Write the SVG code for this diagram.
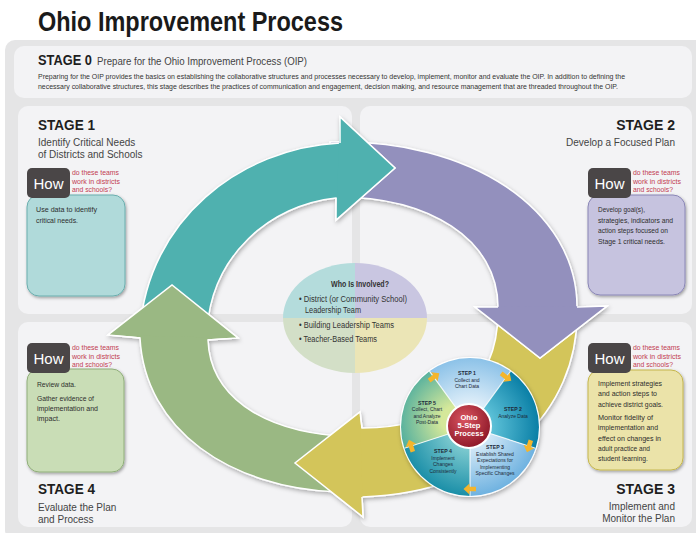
<svg xmlns="http://www.w3.org/2000/svg" width="696" height="533" viewBox="0 0 696 533">
<defs>
<style>
.t{font-family:"Liberation Sans",Arial,sans-serif}
.ttl{font-size:27px;font-weight:bold;fill:#1a1a1a}
.stg{font-size:14px;font-weight:bold;fill:#1e1e1e}
.sub{font-size:10px;fill:#444}
.par{font-size:7px;fill:#333}
.body{font-size:8px;fill:#2e2e2e}
.red{font-size:7px;fill:#c23b52}
.how{font-size:15px;fill:#fff}
.who{font-size:8.5px;fill:#333}
.stp{font-size:5.2px;font-weight:bold;fill:#1d2a3a;text-anchor:middle}
.sd{font-size:5px;fill:#1d2a3a;text-anchor:middle}
.ctr{font-size:7.5px;font-weight:bold;fill:#fff;text-anchor:middle}
.panel{fill:#f3f3f5}
.howbox{fill:#4a4647}
.arrow{stroke:#fff;stroke-width:1.5;stroke-linejoin:miter}
.edge{fill:none;stroke:#fff;stroke-width:1.5}
</style>
<filter id="sh" x="-10%" y="-10%" width="130%" height="130%">
<feDropShadow dx="1" dy="2" stdDeviation="2" flood-color="#000" flood-opacity="0.3"/>
</filter>
<filter id="sh2" x="-10%" y="-10%" width="130%" height="130%">
<feDropShadow dx="1" dy="1.5" stdDeviation="1.5" flood-color="#000" flood-opacity="0.35"/>
</filter>
<radialGradient id="g1" gradientUnits="userSpaceOnUse" cx="470" cy="427" r="69"><stop offset="0.3" stop-color="#e4f1fa"/><stop offset="1" stop-color="#8cc2e8"/></radialGradient>
<radialGradient id="g2" gradientUnits="userSpaceOnUse" cx="470" cy="427" r="69"><stop offset="0.3" stop-color="#5fc3d9"/><stop offset="1" stop-color="#0a7fa6"/></radialGradient>
<radialGradient id="g3" gradientUnits="userSpaceOnUse" cx="470" cy="427" r="69"><stop offset="0.3" stop-color="#d2e8f7"/><stop offset="1" stop-color="#6fb2e0"/></radialGradient>
<radialGradient id="g4" gradientUnits="userSpaceOnUse" cx="470" cy="427" r="69"><stop offset="0.3" stop-color="#7fcbd0"/><stop offset="1" stop-color="#1b8fa8"/></radialGradient>
<radialGradient id="g5" gradientUnits="userSpaceOnUse" cx="455" cy="420" r="69"><stop offset="0.2" stop-color="#d5e89a"/><stop offset="1" stop-color="#2f9f9f"/></radialGradient>
<radialGradient id="gr" cx="0.4" cy="0.35" r="0.7"><stop offset="0" stop-color="#d9545f"/><stop offset="1" stop-color="#8a1526"/></radialGradient>
<path id="sa" d="M -6 -2.3 L 0.5 -2.3 L 0.5 -5.5 L 6.5 0 L 0.5 5.5 L 0.5 2.3 L -6 2.3 Z" fill="#f4b52c"/>
</defs>

<rect width="696" height="533" fill="#ffffff"/>
<text class="t ttl" x="38" y="31" textLength="305" lengthAdjust="spacingAndGlyphs">Ohio Improvement Process</text>
<rect x="5" y="40" width="700" height="500" rx="10" fill="#e5e5e6"/>

<g id="stage0">
<rect x="14" y="46" width="678" height="52" rx="10" class="panel"/>
<text class="t stg" x="38" y="65" textLength="54" lengthAdjust="spacingAndGlyphs">STAGE 0</text>
<text class="t sub" x="97" y="65" textLength="210" lengthAdjust="spacingAndGlyphs">Prepare for the Ohio Improvement Process (OIP)</text>
<text class="t par" x="38" y="79" textLength="587" lengthAdjust="spacingAndGlyphs">Preparing for the OIP provides the basics on establishing the collaborative structures and processes necessary to develop, implement, monitor and evaluate the OIP.  In addition to defining the</text>
<text class="t par" x="38" y="89" textLength="580" lengthAdjust="spacingAndGlyphs">necessary collaborative structures, this stage describes the practices of communication and engagement, decision making, and resource management that are threaded throughout the OIP.</text>
</g>

<g id="panels">
<rect x="18" y="106" width="334" height="208" rx="10" class="panel"/>
<rect x="360" y="106" width="332" height="208" rx="10" class="panel"/>
<rect x="18" y="322" width="334" height="205" rx="10" class="panel"/>
<rect x="360" y="322" width="332" height="205" rx="10" class="panel"/>
</g>

<g id="stage1">
<text class="t stg" x="38" y="130" textLength="57" lengthAdjust="spacingAndGlyphs">STAGE 1</text>
<text class="t sub" x="38" y="146">Identify Critical Needs</text>
<text class="t sub" x="38" y="158">of Districts and Schools</text>
<rect x="27" y="195" width="98" height="101" rx="12" fill="#b0dada" stroke="#6aaeae" stroke-width="1" filter="url(#sh2)"/>
<rect x="27" y="168" width="43" height="30" rx="5" class="howbox"/>
<text class="t how" x="48.5" y="189" text-anchor="middle">How</text>
<text class="t red" x="72" y="175" textLength="47" lengthAdjust="spacingAndGlyphs">do these teams</text>
<text class="t red" x="72" y="183.5" textLength="48" lengthAdjust="spacingAndGlyphs">work in districts</text>
<text class="t red" x="72" y="192" textLength="40" lengthAdjust="spacingAndGlyphs">and schools?</text>
<text class="t body" x="36" y="212" textLength="61" lengthAdjust="spacingAndGlyphs">Use data to identify</text>
<text class="t body" x="36" y="223" textLength="42" lengthAdjust="spacingAndGlyphs">critical needs.</text>
</g>

<g id="stage2">
<text class="t stg" x="675" y="130" text-anchor="end">STAGE 2</text>
<text class="t sub" x="675" y="146" text-anchor="end">Develop a Focused Plan</text>
<rect x="588" y="195" width="97" height="100" rx="12" fill="#c6c3df" stroke="#8a86b6" stroke-width="1" filter="url(#sh2)"/>
<rect x="588" y="168" width="43" height="30" rx="5" class="howbox"/>
<text class="t how" x="609.5" y="189" text-anchor="middle">How</text>
<text class="t red" x="633" y="175" textLength="47" lengthAdjust="spacingAndGlyphs">do these teams</text>
<text class="t red" x="633" y="183.5" textLength="48" lengthAdjust="spacingAndGlyphs">work in districts</text>
<text class="t red" x="633" y="192" textLength="40" lengthAdjust="spacingAndGlyphs">and schools?</text>
<text class="t body" x="598" y="212" textLength="47" lengthAdjust="spacingAndGlyphs">Develop goal(s),</text>
<text class="t body" x="598" y="222.5" textLength="75" lengthAdjust="spacingAndGlyphs">strategies, indicators and</text>
<text class="t body" x="598" y="233" textLength="70" lengthAdjust="spacingAndGlyphs">action steps focused on</text>
<text class="t body" x="598" y="243.5" textLength="67" lengthAdjust="spacingAndGlyphs">Stage 1 critical needs.</text>
</g>

<g id="stage4">
<rect x="27" y="369" width="97" height="103" rx="12" fill="#c9ddb6" stroke="#90ae7a" stroke-width="1" filter="url(#sh2)"/>
<rect x="27" y="343" width="43" height="30" rx="5" class="howbox"/>
<text class="t how" x="48.5" y="364" text-anchor="middle">How</text>
<text class="t red" x="72" y="350" textLength="47" lengthAdjust="spacingAndGlyphs">do these teams</text>
<text class="t red" x="72" y="358.5" textLength="48" lengthAdjust="spacingAndGlyphs">work in districts</text>
<text class="t red" x="72" y="367" textLength="40" lengthAdjust="spacingAndGlyphs">and schools?</text>
<text class="t body" x="37" y="387" textLength="39" lengthAdjust="spacingAndGlyphs">Review data.</text>
<text class="t body" x="37" y="401" textLength="57" lengthAdjust="spacingAndGlyphs">Gather evidence of</text>
<text class="t body" x="37" y="411" textLength="61" lengthAdjust="spacingAndGlyphs">implementation and</text>
<text class="t body" x="37" y="421" textLength="23" lengthAdjust="spacingAndGlyphs">impact.</text>
<text class="t stg" x="38" y="494" textLength="57" lengthAdjust="spacingAndGlyphs">STAGE 4</text>
<text class="t sub" x="38" y="511">Evaluate the Plan</text>
<text class="t sub" x="38" y="523">and Process</text>
</g>

<g id="stage3">
<rect x="588" y="370" width="95" height="100" rx="12" fill="#ebe3a9" stroke="#c5b64c" stroke-width="1" filter="url(#sh2)"/>
<rect x="588" y="343" width="43" height="30" rx="5" class="howbox"/>
<text class="t how" x="609.5" y="364" text-anchor="middle">How</text>
<text class="t red" x="633" y="350" textLength="47" lengthAdjust="spacingAndGlyphs">do these teams</text>
<text class="t red" x="633" y="358.5" textLength="48" lengthAdjust="spacingAndGlyphs">work in districts</text>
<text class="t red" x="633" y="367" textLength="40" lengthAdjust="spacingAndGlyphs">and schools?</text>
<text class="t body" x="598" y="386" textLength="64" lengthAdjust="spacingAndGlyphs">Implement strategies</text>
<text class="t body" x="598" y="396" textLength="59" lengthAdjust="spacingAndGlyphs">and action steps to</text>
<text class="t body" x="598" y="407" textLength="65" lengthAdjust="spacingAndGlyphs">achieve district goals.</text>
<text class="t body" x="598" y="420" textLength="55" lengthAdjust="spacingAndGlyphs">Monitor fidelity of</text>
<text class="t body" x="598" y="430" textLength="60" lengthAdjust="spacingAndGlyphs">implementation and</text>
<text class="t body" x="598" y="441" textLength="63" lengthAdjust="spacingAndGlyphs">effect on changes in</text>
<text class="t body" x="598" y="451" textLength="52" lengthAdjust="spacingAndGlyphs">adult practice and</text>
<text class="t body" x="598" y="461" textLength="50" lengthAdjust="spacingAndGlyphs">student learning.</text>
<text class="t stg" x="675" y="494" text-anchor="end">STAGE 3</text>
<text class="t sub" x="675" y="510" text-anchor="end">Implement and</text>
<text class="t sub" x="675" y="522" text-anchor="end">Monitor the Plan</text>
</g>

<g id="who">
<clipPath id="ec"><ellipse cx="355" cy="318" rx="72" ry="55"/></clipPath>
<g clip-path="url(#ec)">
<rect x="283" y="263" width="72" height="55" fill="#b4dcdc"/>
<rect x="355" y="263" width="72" height="55" fill="#c9c6e1"/>
<rect x="283" y="318" width="72" height="55" fill="#d3dfc7"/>
<rect x="355" y="318" width="72" height="55" fill="#ebe5b6"/>
</g>
<text class="t who" x="360" y="287" text-anchor="middle" font-weight="bold" textLength="58" lengthAdjust="spacingAndGlyphs">Who Is Involved?</text>
<text class="t who" x="299" y="302" textLength="108" lengthAdjust="spacingAndGlyphs">• District (or Community School)</text>
<text class="t who" x="305" y="313" textLength="56" lengthAdjust="spacingAndGlyphs">Leadership Team</text>
<text class="t who" x="299" y="327.5" textLength="95" lengthAdjust="spacingAndGlyphs">• Building Leadership Teams</text>
<text class="t who" x="299" y="342" textLength="78" lengthAdjust="spacingAndGlyphs">• Teacher-Based Teams</text>
</g>

<g id="connectors">
<g filter="url(#sh)">
<path id="arrow-stage3" class="arrow" fill="#d3c55a" d="M 577 312 C 578 410 500 492 362 497 L 363 517 L 295 463 L 360 412 L 362 428 C 440 428 498 390 498 312 Z"/>
<path id="arrow-stage2" class="arrow" fill="#9390bd" d="M 330 142 C 470 138 577 210 577 307 L 607 306 L 540 358 L 475 307 L 498 307 C 498 240 430 195 330 197 Z"/>
<path id="arrow-stage4" class="arrow" fill="#9ab883" d="M 338 492 C 230 488 145 430 140 338 L 108 335 L 172 285 L 238 338 L 208 340 C 210 395 260 430 338 436 Z"/>
<path id="arrow-stage1" class="arrow" fill="#4fb1af" d="M 140 330 C 148 220 240 148 340 143 L 340 117 L 395 168 L 336 220 L 336 198 C 270 205 212 255 207 330 Z"/>
</g>
<polygon points="360,412 295,463 363,517" fill="#d3c55a"/>
<path class="edge" d="M 362 428 L 360 412 L 295 463 L 363 517 L 362 497"/>
<polygon points="475,307 607,306 540,358" fill="#9390bd"/>
<path class="edge" d="M 577 307 L 607 306 L 540 358 L 475 307 L 498 307"/>
<polygon points="108,335 172,285 238,338" fill="#9ab883"/>
<path class="edge" d="M 140 338 L 108 335 L 172 285 L 238 338 L 208 340"/>
<polygon points="340,117 395,168 336,220" fill="#4fb1af"/>
<path class="edge" d="M 340 143 L 340 117 L 395 168 L 336 220 L 336 198"/>
</g>

<g id="five-step">
<circle cx="470" cy="427" r="70" fill="#fff" filter="url(#sh)"/>
<path d="M 470 427 L 429.4 371.2 A 69 69 0 0 1 510.6 371.2 Z" fill="url(#g1)"/>
<path d="M 470 427 L 510.6 371.2 A 69 69 0 0 1 535.6 448.3 Z" fill="url(#g2)"/>
<path d="M 470 427 L 535.6 448.3 A 69 69 0 0 1 470 496 Z" fill="url(#g3)"/>
<path d="M 470 427 L 470 496 A 69 69 0 0 1 404.4 448.3 Z" fill="url(#g4)"/>
<path d="M 470 427 L 404.4 448.3 A 69 69 0 0 1 429.4 371.2 Z" fill="url(#g5)"/>
<g stroke="#fff" stroke-width="1.2" opacity="0.8">
<line x1="470" y1="427" x2="429.4" y2="371.2"/>
<line x1="470" y1="427" x2="510.6" y2="371.2"/>
<line x1="470" y1="427" x2="535.6" y2="448.3"/>
<line x1="470" y1="427" x2="470" y2="496"/>
<line x1="470" y1="427" x2="404.4" y2="448.3"/>
</g>
<use href="#sa" transform="translate(434 377) rotate(-36)"/>
<use href="#sa" transform="translate(506 377) rotate(36)"/>
<use href="#sa" transform="translate(529 446) rotate(108)"/>
<use href="#sa" transform="translate(470 489) rotate(180)"/>
<use href="#sa" transform="translate(411 446) rotate(252)"/>
<circle cx="469" cy="426" r="22" fill="url(#gr)" stroke="#fff" stroke-width="2"/>
<text class="t ctr" x="469" y="420">Ohio</text>
<text class="t ctr" x="469" y="428">5-Step</text>
<text class="t ctr" x="469" y="436">Process</text>
<text class="t stp" x="467" y="375">STEP 1</text>
<text class="t sd" x="467" y="381.5">Collect and</text>
<text class="t sd" x="467" y="387.5">Chart Data</text>
<text class="t stp" x="513" y="411">STEP 2</text>
<text class="t sd" x="513" y="418">Analyze Data</text>
<text class="t stp" x="495" y="448.5">STEP 3</text>
<text class="t sd" x="495" y="455.5">Establish Shared</text>
<text class="t sd" x="495" y="462">Expectations for</text>
<text class="t sd" x="495" y="468.5">Implementing</text>
<text class="t sd" x="495" y="475">Specific Changes</text>
<text class="t stp" x="443" y="452.5">STEP 4</text>
<text class="t sd" x="443" y="459.5">Implement</text>
<text class="t sd" x="443" y="466">Changes</text>
<text class="t sd" x="443" y="472.5">Consistently</text>
<text class="t stp" x="427" y="404.5">STEP 5</text>
<text class="t sd" x="427" y="411">Collect, Chart</text>
<text class="t sd" x="427" y="417.5">and Analyze</text>
<text class="t sd" x="427" y="424">Post-Data</text>
</g>
</svg>
